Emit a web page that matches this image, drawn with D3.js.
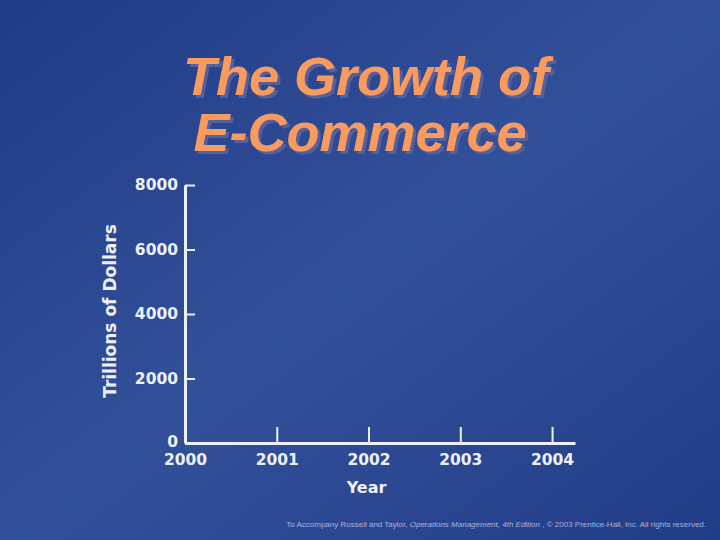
<!DOCTYPE html>
<html>
<head>
<meta charset="utf-8">
<script src="https://cdn.jsdelivr.net/npm/d3@7"></script>
<style>
  html, body { margin: 0; padding: 0; background: #2c4792; }
  svg { display: block; }
</style>
</head>
<body>
<svg id="chart" width="720" height="540"></svg>
<script>
// ---- data ----
const titleLines = ["The Growth of", "E-Commerce"];
const years = [2000, 2001, 2002, 2003, 2004];
const yTicks = [0, 2000, 4000, 6000, 8000];
const yMax = 8000;
const xLabel = "Year";
const yLabel = "Trillions of Dollars";
const footerParts = [
  { text: "To Accompany Russell and Taylor,  ", italic: false },
  { text: "Operations Management, 4th Edition", italic: true },
  { text: " , © 2003 Prentice-Hall, Inc. All rights reserved.", italic: false }
];

const svg = d3.select("#chart");
const W = 720, H = 540;

// background gradient
const defs = svg.append("defs");
const grad = defs.append("linearGradient")
  .attr("id", "bg").attr("x1", "0").attr("y1", "0").attr("x2", "1").attr("y2", "1");
grad.append("stop").attr("offset", "0%").attr("stop-color", "#213b86");
grad.append("stop").attr("offset", "50%").attr("stop-color", "#33509a");
grad.append("stop").attr("offset", "100%").attr("stop-color", "#223d88");
svg.append("rect").attr("width", W).attr("height", H).attr("fill", "url(#bg)");

// title shadow filter
const f = defs.append("filter").attr("id", "shadow")
  .attr("x", "-5%").attr("y", "-10%").attr("width", "115%").attr("height", "130%");
f.append("feOffset").attr("in", "SourceAlpha").attr("dx", 3).attr("dy", 3).attr("result", "off");
f.append("feFlood").attr("flood-color", "#56619a").attr("result", "col");
f.append("feComposite").attr("in", "col").attr("in2", "off").attr("operator", "in").attr("result", "sh");
const fm = f.append("feMerge");
fm.append("feMergeNode").attr("in", "sh");
fm.append("feMergeNode").attr("in", "SourceGraphic");

// title
const titleFont = "'Liberation Sans', Arial, sans-serif";
const titlePos = [{ x: 366, y: 95 }, { x: 360, y: 151 }];
titleLines.forEach((t, i) => {
  svg.append("text")
    .attr("x", titlePos[i].x).attr("y", titlePos[i].y)
    .attr("text-anchor", "middle")
    .attr("font-family", titleFont).attr("font-weight", "bold").attr("font-style", "italic")
    .attr("font-size", 54).attr("fill", "#f89b5d")
    .attr("filter", "url(#shadow)")
    .text(t);
});

// scales
const x = d3.scaleLinear().domain([2000, 2004.25]).range([185, 575]);
const y = d3.scaleLinear().domain([0, yMax]).range([443, 185]);

const axisColor = "#eef0f8";
const tickFont = "'DejaVu Sans', sans-serif";

// y axis
const gy = svg.append("g").attr("transform", `translate(${x(2000)},0)`)
  .call(d3.axisLeft(y).tickValues(yTicks).tickFormat(d3.format("d"))
    .tickSizeInner(-10).tickSizeOuter(0).tickPadding(7));
gy.select(".domain").attr("stroke", axisColor).attr("stroke-width", 3);
gy.selectAll(".tick line").attr("stroke", axisColor).attr("stroke-width", 2);
gy.selectAll(".tick text").attr("fill", axisColor)
  .attr("font-family", tickFont).attr("font-weight", "bold").attr("font-size", 15.5)
  .attr("dy", d => d === 0 ? "0.2em" : "0.32em");

// x axis
const gx = svg.append("g").attr("transform", `translate(0,${y(0)})`)
  .call(d3.axisBottom(x).tickValues(years).tickFormat(d3.format("d"))
    .tickSizeInner(-16).tickSizeOuter(0).tickPadding(11));
gx.select(".domain").attr("stroke", axisColor).attr("stroke-width", 3);
gx.selectAll(".tick line").attr("stroke", axisColor).attr("stroke-width", 2);
gx.selectAll(".tick text").attr("fill", axisColor)
  .attr("font-family", tickFont).attr("font-weight", "bold").attr("font-size", 15.5);

// axis titles
svg.append("text")
  .attr("x", x(2002) - 2).attr("y", 493)
  .attr("text-anchor", "middle").attr("fill", axisColor)
  .attr("font-family", tickFont).attr("font-weight", "bold").attr("font-size", 16)
  .text(xLabel);

svg.append("text")
  .attr("transform", `translate(115.5,${(y(0) + y(yMax)) / 2 - 3}) rotate(-90)`)
  .attr("text-anchor", "middle").attr("fill", axisColor)
  .attr("font-family", tickFont).attr("font-weight", "bold").attr("font-size", 17)
  .text(yLabel);

// footer
const footer = svg.append("text")
  .attr("x", 706).attr("y", 527).attr("text-anchor", "end")
  .attr("font-family", "'Liberation Sans', Arial, sans-serif").attr("font-size", 8)
  .attr("fill", "#a9b4de");
footerParts.forEach(p => {
  footer.append("tspan").attr("font-style", p.italic ? "italic" : "normal").text(p.text);
});
</script>
</body>
</html>
